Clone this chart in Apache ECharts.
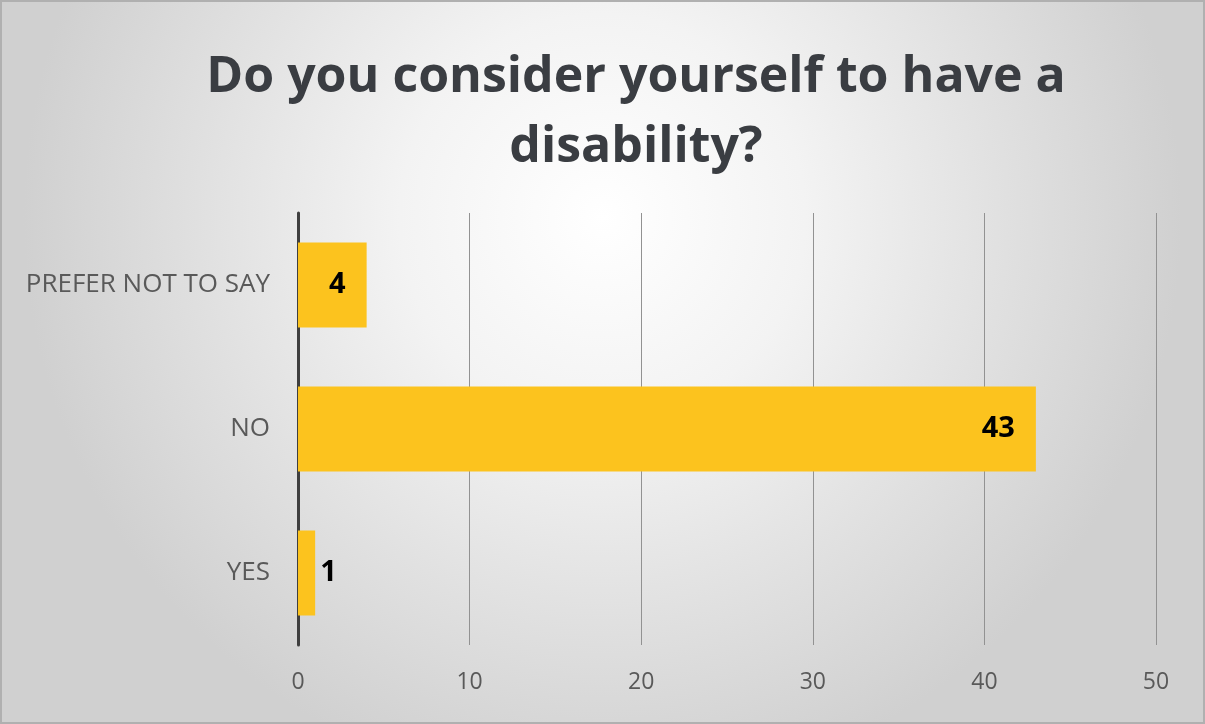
<!DOCTYPE html>
<html>
<head>
<meta charset="utf-8">
<script src="https://cdn.jsdelivr.net/npm/echarts@6/dist/echarts.min.js"></script>
<style>
  html, body { margin: 0; padding: 0; }
  #chart { width: 1205px; height: 724px; }
</style>
</head>
<body>
<div id="chart"></div>
<script>
// Survey answers, bottom to top as drawn on the category axis
const categories = ['YES', 'NO', 'PREFER NOT TO SAY'];
const counts = [1, 43, 4];
const xTicks = { min: 0, max: 50, interval: 10 };
const titleText = 'Do you consider yourself to have a\ndisability?';

const chart = echarts.init(document.getElementById('chart'));

// Short bars keep their number just outside the bar end
const barData = counts.map(function (v) {
  if (v < 3) {
    return { value: v, label: { position: 'right', distance: 5 } };
  }
  return v;
});

chart.setOption({
  animation: false,
  graphic: [{
    type: 'rect',
    z: -10,
    shape: { x: 1, y: 1, width: 1203, height: 722 },
    style: {
      fill: {
        type: 'radial', x: 0.5, y: 0.3, r: 0.8,
        colorStops: [
          { offset: 0, color: '#ffffff' },
          { offset: 0.35, color: '#f3f3f3' },
          { offset: 0.7, color: '#e0e0e0' },
          { offset: 1, color: '#d0d0d0' }
        ]
      },
      stroke: '#b0b0b0',
      lineWidth: 2
    }
  }],
  title: {
    text: titleText,
    left: 631,
    textAlign: 'center',
    top: 38,
    textStyle: {
      fontFamily: 'Open Sans',
      fontWeight: 'bold',
      fontSize: 50,
      lineHeight: 70,
      color: '#3a3d42'
    }
  },
  grid: { left: 298, right: 49, top: 213, bottom: 79, containLabel: false },
  xAxis: {
    type: 'value',
    min: xTicks.min,
    max: xTicks.max,
    interval: xTicks.interval,
    axisLine: { show: false },
    axisTick: { show: false },
    axisLabel: {
      margin: 26,
      fontFamily: 'Open Sans',
      fontSize: 23,
      color: '#595959'
    },
    splitLine: { lineStyle: { color: '#929292', width: 1 } }
  },
  yAxis: {
    type: 'category',
    data: categories,
    axisLine: { lineStyle: { color: '#3f3f3f', width: 3 } },
    axisTick: { show: false },
    axisLabel: {
      margin: 28,
      fontFamily: 'Open Sans',
      fontSize: 26,
      color: '#595959'
    }
  },
  series: [{
    type: 'bar',
    data: barData,
    barWidth: '59%',
    itemStyle: { color: '#fcc31e' },
    z: 1,
    label: {
      show: true,
      position: 'insideRight',
      distance: 21,
      fontFamily: 'Open Sans',
      fontWeight: 'bold',
      fontSize: 29,
      color: '#000000'
    }
  }]
});
</script>
</body>
</html>
